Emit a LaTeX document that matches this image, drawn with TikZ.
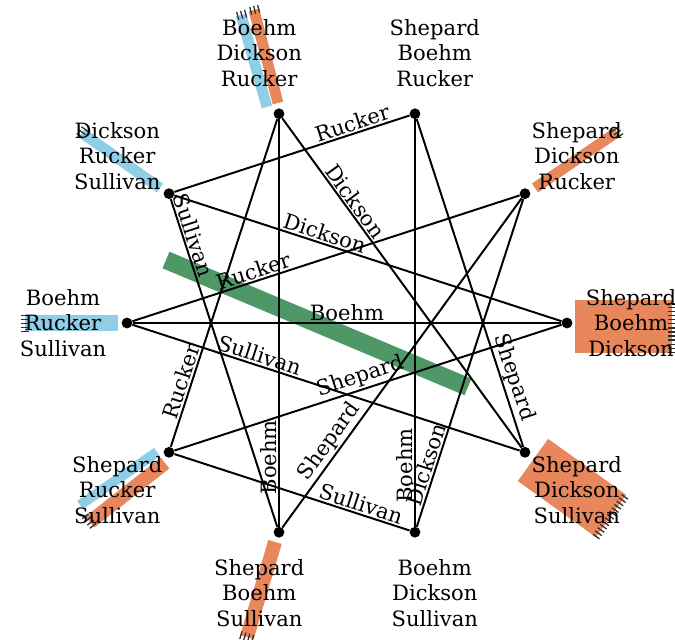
\documentclass[tikz,border=0pt]{standalone}
\usepackage{fontspec}
\setmainfont{DejaVu Serif}
\usetikzlibrary{calc}
\definecolor{scarforange}{RGB}{232,134,92}
\definecolor{scarfblue}{RGB}{142,206,230}
\definecolor{scarfgreen}{RGB}{78,152,104}
\definecolor{fringegray}{RGB}{45,45,45}
\newcommand{\namefont}{\fontsize{15}{18}\selectfont}
% ticks across the loose end of a scarf: inner point, end point, half width
\newcommand{\fringe}[3]{\draw[fringe] ($(#2)!#3!90:(#1)$) -- ($(#2)!#3!-90:(#1)$);}

\begin{document}
\begin{tikzpicture}[
    vert/.style={circle,fill=black,inner sep=0pt,minimum size=0.27cm},
    who/.style={align=center,font=\namefont},
    lbl/.style={sloped,above,inner sep=1pt,font=\namefont},
    link/.style={black,line width=1.4pt},
    fringe/.style={fringegray,line width=0.2cm,dash pattern=on 0.9pt off 2pt}
  ]
    \useasboundingbox (-8.675,-7.925) rectangle (8.2,8.075);

    % scarves
    \coordinate (s1a) at (-2.0,5.4);    \coordinate (e1a) at (-2.65,7.7);
    \coordinate (s1b) at (-1.725,5.5);  \coordinate (e1b) at (-2.325,7.825);
    \coordinate (s2) at (-4.675,3.375); \coordinate (e2) at (-6.625,4.75);
    \coordinate (s3) at (4.7,3.375);    \coordinate (e3) at (6.75,4.775);
    \coordinate (s4) at (-5.725,0);     \coordinate (e4) at (-8.05,0);
    \coordinate (s5) at (5.7,-0.09);    \coordinate (e5) at (8.125,-0.09);
    \coordinate (s6a) at (-4.75,-3.225); \coordinate (e6a) at (-6.675,-4.55);
    \coordinate (s6b) at (-4.55,-3.5);   \coordinate (e6b) at (-6.425,-4.975);
    \coordinate (s7) at (4.65,-3.425);  \coordinate (e7) at (6.6,-4.825);
    \coordinate (s8) at (-1.8,-5.475);  \coordinate (e8) at (-2.5,-7.85);
    \coordinate (s9) at (-4.525,1.575); \coordinate (e9) at (3.025,-1.6);

    \draw[scarfblue,line width=0.27cm] (s1a) -- (e1a);
    \draw[scarforange,line width=0.27cm] (s1b) -- (e1b);
    \draw[scarfblue,line width=0.27cm] (s2) -- (e2);
    \draw[scarforange,line width=0.27cm] (s3) -- (e3);
    \draw[scarfblue,line width=0.42cm] (s4) -- (e4);
    \draw[scarforange,line width=1.33cm] (s5) -- (e5);
    \draw[scarfblue,line width=0.25cm] (s6a) -- (e6a);
    \draw[scarforange,line width=0.35cm] (s6b) -- (e6b);
    \draw[scarforange,line width=1.3cm] (s7) -- (e7);
    \draw[scarforange,line width=0.35cm] (s8) -- (e8);
    \draw[scarfgreen,line width=0.45cm] (s9) -- (e9);

    \fringe{s1a}{e1a}{0.135cm}
    \fringe{s1b}{e1b}{0.135cm}
    \fringe{s2}{e2}{0.135cm}
    \fringe{s3}{e3}{0.135cm}
    \fringe{s4}{e4}{0.21cm}
    \fringe{s5}{e5}{0.66cm}
    \fringe{s6b}{e6b}{0.2cm}
    \fringe{s7}{e7}{0.65cm}
    \fringe{s8}{e8}{0.175cm}

    % the ten vertices
    \node[vert] (topl) at (108:5.5) {};
    \node[vert] (topr) at (72:5.5) {};
    \node[vert] (upr) at (36:5.5) {};
    \node[vert] (mid-r) at (0:5.5) {};
    \node[vert] (lowr) at (-36:5.5) {};
    \node[vert] (botr) at (-72:5.5) {};
    \node[vert] (botl) at (-108:5.5) {};
    \node[vert] (lowl) at (-144:5.5) {};
    \node[vert] (mid-l) at (180:5.5) {};
    \node[vert] (upl) at (144:5.5) {};

    \node[who] (topl-txt) at (108:7.1) {Boehm\\Dickson\\Rucker};
    \node[who] (topr-txt) at (72:7.1) {Shepard\\Boehm\\Rucker};
    \node[who] (upr-txt) at (36:7.1) {Shepard\\Dickson\\Rucker};
    \node[who] (mid-r-txt) at (0:7.1) {Shepard\\Boehm\\Dickson};
    \node[who] (lowr-txt) at (-36:7.1) {Shepard\\Dickson\\Sullivan};
    \node[who] (botr-txt) at (-72:7.1) {Boehm\\Dickson\\Sullivan};
    \node[who] (botl-txt) at (-108:7.1) {Shepard\\Boehm\\Sullivan};
    \node[who] (lowl-txt) at (-144:7.1) {Shepard\\Rucker\\Sullivan};
    \node[who] (mid-l-txt) at (180:7.1) {Boehm\\Rucker\\Sullivan};
    \node[who] (upl-txt) at (144:7.1) {Dickson\\Rucker\\Sullivan};

    % edges, labelled with the shared name
    \draw[link] (topl) -- (lowr) node[lbl,pos=.27] {Dickson};
    \draw[link] (botl) -- (topl) node[lbl,pos=.17] {Boehm};
    \draw[link] (lowl) -- (topl) node[lbl,pos=.19] {Rucker};
    \draw[link] (topr) -- (lowr) node[lbl,pos=.8] {Shepard};
    \draw[link] (botr) -- (topr) node[lbl,pos=.15] {Boehm};
    \draw[link] (upl) -- (topr) node[lbl,pos=.77] {Rucker};
    \draw[link] (botr) -- (upr) node[lbl,pos=.18] {Dickson};
    \draw[link] (botl) -- (upr) node[lbl,pos=.24] {Shepard};
    \draw[link] (mid-l) -- (upr) node[lbl,pos=.32] {Rucker};
    \draw[link] (lowl) -- (mid-r) node[lbl,pos=.49] {Shepard};
    \draw[link] (mid-l) -- (mid-r) node[lbl,pos=.5] {Boehm};
    \draw[link] (upl) -- (mid-r) node[lbl,pos=.38] {Dickson};
    \draw[link] (mid-l) -- (lowr) node[lbl,pos=.32] {Sullivan};
    \draw[link] (lowl) -- (botr) node[lbl,pos=.78] {Sullivan};
    \draw[link] (upl) -- (botl) node[lbl,pos=.12] {Sullivan};
  \end{tikzpicture}
\end{document}
